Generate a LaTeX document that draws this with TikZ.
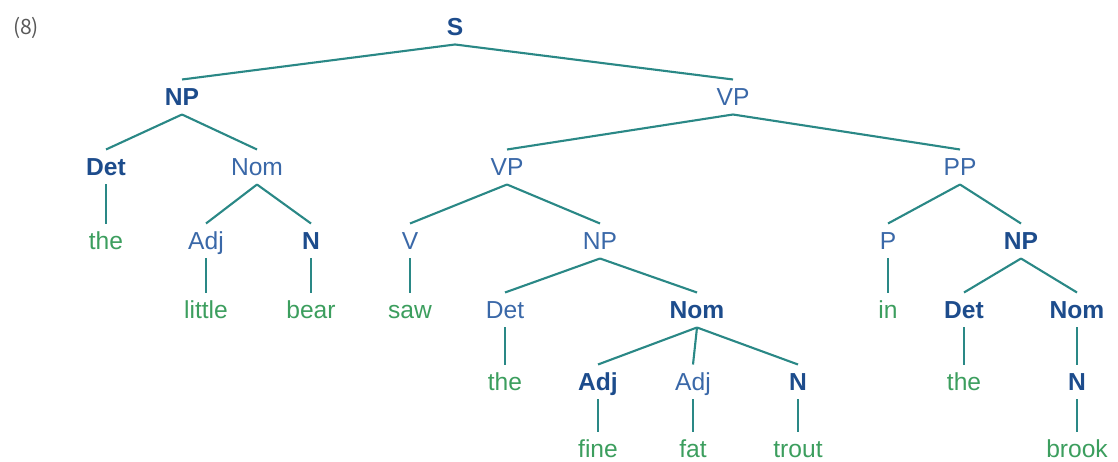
\documentclass[tikz,border=0pt]{standalone}
\usepackage{fontspec}
\setmainfont{Liberation Sans}
\newfontfamily\numfont{Noto Sans CJK JP}
\usepackage{tikz}
\usetikzlibrary{positioning}

\definecolor{catblue}{HTML}{3A68A8}
\definecolor{catdark}{HTML}{1D4C8C}
\definecolor{wordgreen}{HTML}{3C9E5E}
\definecolor{branchteal}{HTML}{2A8886}

\begin{document}
\begin{tikzpicture}[x=0.02cm, y=-0.02cm,
  every node/.style={font=\fontsize{14}{16}\selectfont, text height=0.36cm, text depth=0cm, inner sep=0.17cm, outer sep=0pt},
  cat/.style={text=catblue},
  catb/.style={text=catdark, font=\fontsize{14}{16}\selectfont\bfseries},
  word/.style={text=wordgreen},
  branch/.style={draw=branchteal, line width=1.2pt}]
\useasboundingbox (0,0) rectangle (1118,462);
\node[text=black!65, font=\fontsize{12}{14}\selectfont\numfont] (ex) at (26,26) {(8)};
% top
\node[catb] (S) at (455,27) {S};
\node[catb] (NP) at (182,97) {NP};
\node[cat] (VP) at (733,97) {VP};
% subject
\node[catb] (Det1) at (106,167) {Det};
\node[cat] (Nom1) at (257,167) {Nom};
\node[word] (the1) at (106,241) {the};
\node[cat] (Adj1) at (206,241) {Adj};
\node[catb] (N1) at (311,241) {N};
\node[word] (little) at (206,310) {little};
\node[word] (bear) at (311,310) {bear};
% predicate
\node[cat] (VP2) at (507,167) {VP};
\node[cat] (PP) at (960,167) {PP};
\node[cat] (V) at (410,241) {V};
\node[cat] (NP2) at (600,241) {NP};
\node[word] (saw) at (410,310) {saw};
\node[cat] (Det2) at (505,310) {Det};
\node[catb] (Nom2) at (697,310) {Nom};
\node[word] (the2) at (505,382) {the};
\node[catb] (Adj2) at (598,382) {Adj};
\node[cat] (Adj3) at (693,382) {Adj};
\node[catb] (N2) at (798,382) {N};
\node[word] (fine) at (598,449) {fine};
\node[word] (fat) at (693,449) {fat};
\node[word] (trout) at (798,449) {trout};
% prepositional phrase
\node[cat] (P) at (888,241) {P};
\node[catb] (NP3) at (1021,241) {NP};
\node[word] (in) at (888,310) {in};
\node[catb] (Det3) at (964,310) {Det};
\node[catb] (Nom3) at (1077,310) {Nom};
\node[word] (the3) at (964,382) {the};
\node[catb] (N3) at (1077,382) {N};
\node[word] (brook) at (1077,449) {brook};
% branches
\draw[branch] (S.south) -- (NP.north);
\draw[branch] (S.south) -- (VP.north);
\draw[branch] (NP.south) -- (Det1.north);
\draw[branch] (NP.south) -- (Nom1.north);
\draw[branch] (Det1.south) -- (the1.north);
\draw[branch] (Nom1.south) -- (Adj1.north);
\draw[branch] (Nom1.south) -- (N1.north);
\draw[branch] (Adj1.south) -- (little.north);
\draw[branch] (N1.south) -- (bear.north);
\draw[branch] (VP.south) -- (VP2.north);
\draw[branch] (VP.south) -- (PP.north);
\draw[branch] (VP2.south) -- (V.north);
\draw[branch] (VP2.south) -- (NP2.north);
\draw[branch] (V.south) -- (saw.north);
\draw[branch] (NP2.south) -- (Det2.north);
\draw[branch] (NP2.south) -- (Nom2.north);
\draw[branch] (Det2.south) -- (the2.north);
\draw[branch] (Nom2.south) -- (Adj2.north);
\draw[branch] (Nom2.south) -- (Adj3.north);
\draw[branch] (Nom2.south) -- (N2.north);
\draw[branch] (Adj2.south) -- (fine.north);
\draw[branch] (Adj3.south) -- (fat.north);
\draw[branch] (N2.south) -- (trout.north);
\draw[branch] (PP.south) -- (P.north);
\draw[branch] (PP.south) -- (NP3.north);
\draw[branch] (P.south) -- (in.north);
\draw[branch] (NP3.south) -- (Det3.north);
\draw[branch] (NP3.south) -- (Nom3.north);
\draw[branch] (Det3.south) -- (the3.north);
\draw[branch] (Nom3.south) -- (N3.north);
\draw[branch] (N3.south) -- (brook.north);
\end{tikzpicture}
\end{document}
